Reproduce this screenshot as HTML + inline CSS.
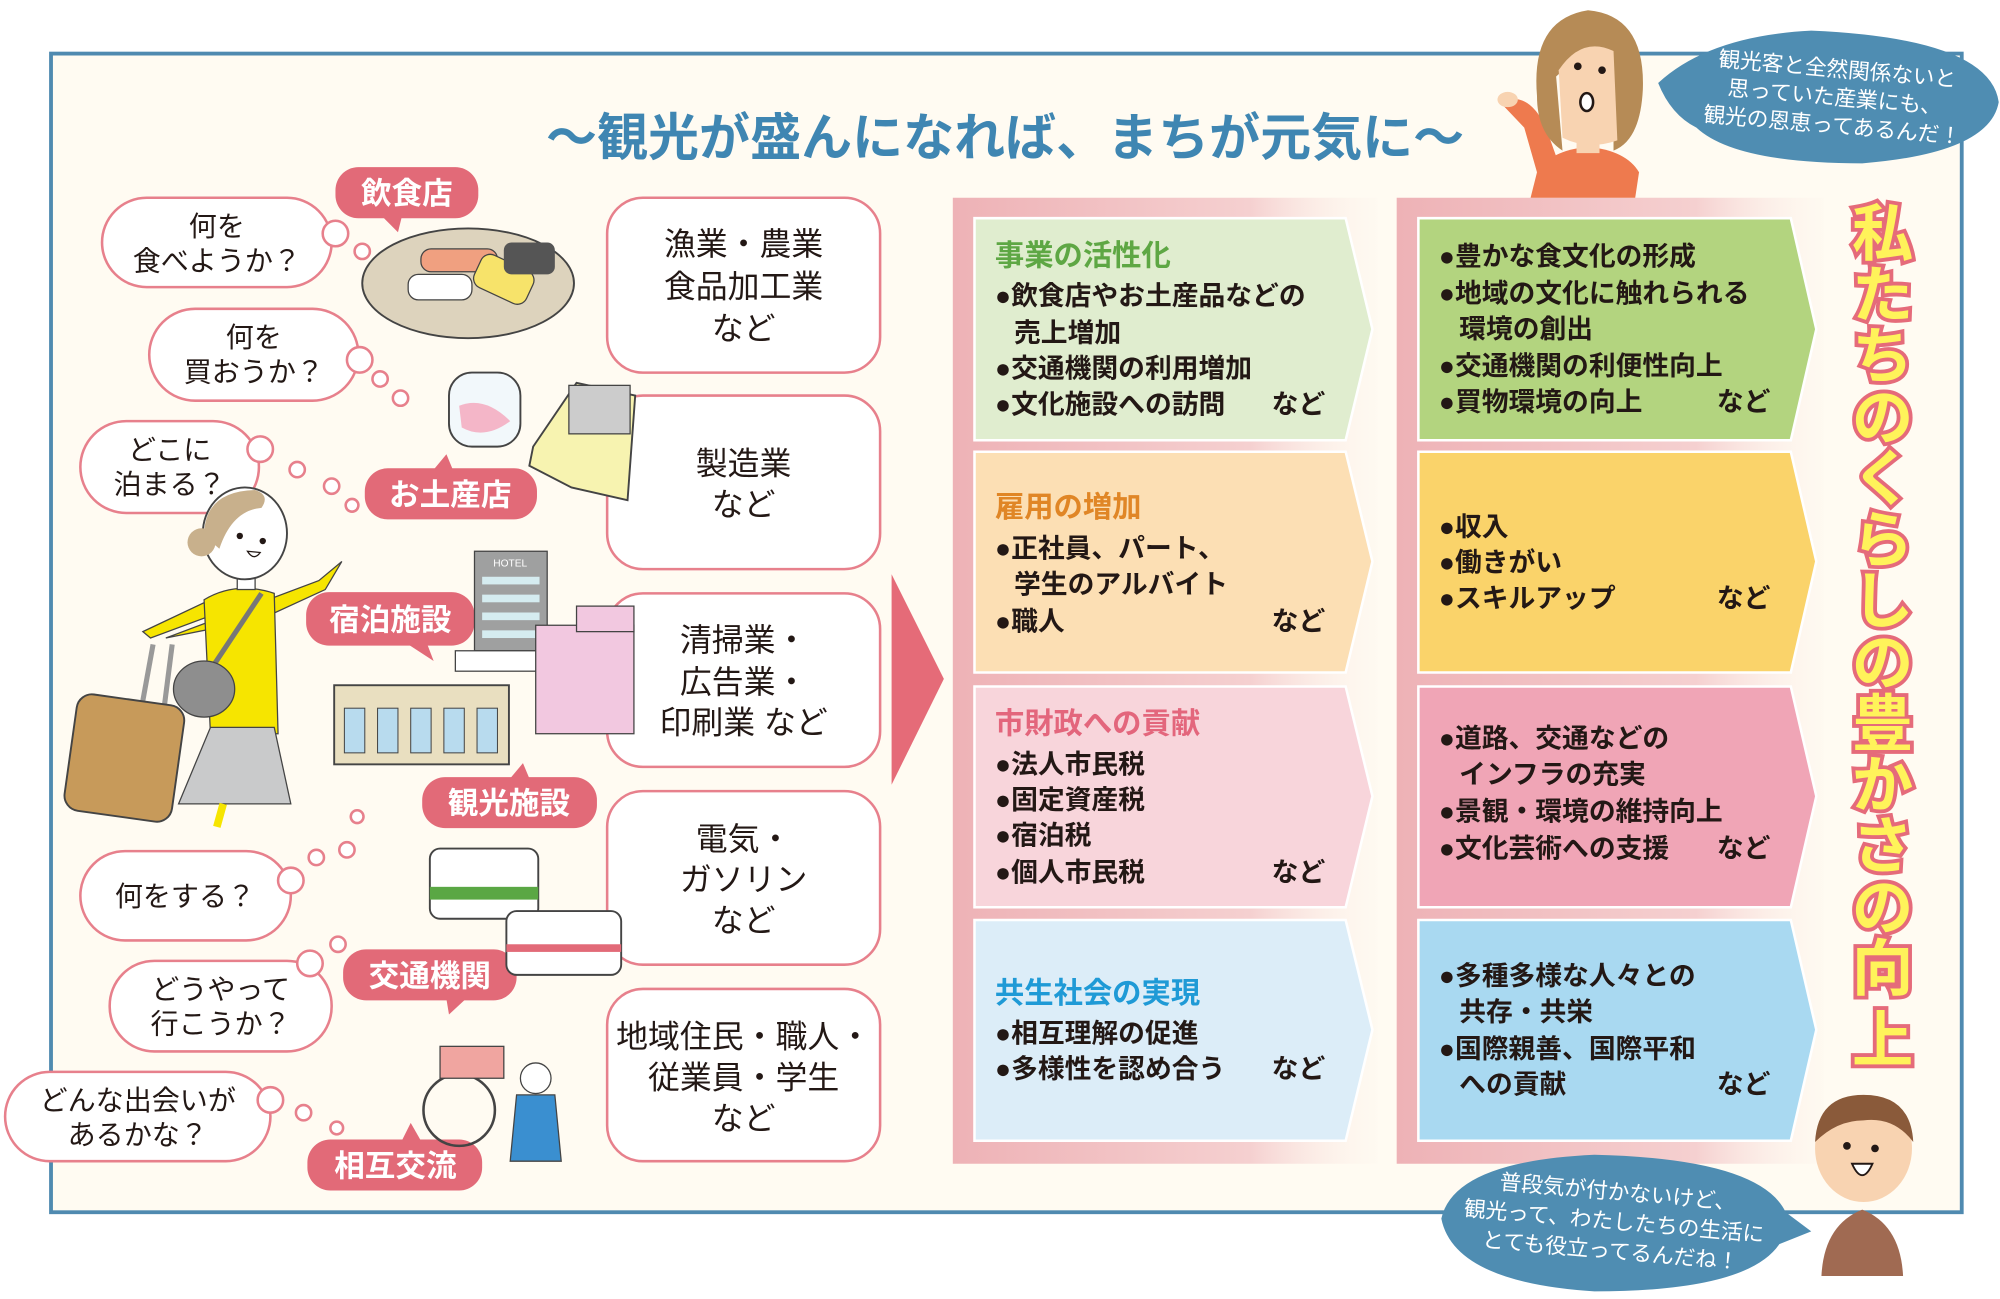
<!DOCTYPE html>
<html><head><meta charset="utf-8"><style>
html,body{margin:0;padding:0;background:#fff;}
svg{display:block;}
text{font-family:"Liberation Sans","Noto Sans CJK JP",sans-serif;}
</style></head><body>
<svg width="2000" height="1299" viewBox="0 0 1568 1018" preserveAspectRatio="none" xmlns="http://www.w3.org/2000/svg">
<defs>
<linearGradient id="pf" x1="0" x2="1" y1="0" y2="0">
<stop offset="0" stop-color="#eeb2b6"/><stop offset="0.7" stop-color="#f5d0d0"/><stop offset="1" stop-color="#fdf4ec" stop-opacity="0.2"/>
</linearGradient>
</defs>
<rect x="0" y="0" width="1568" height="1018" fill="#fff"/>
<rect x="40" y="42" width="1498" height="908" fill="#fffbf2" stroke="#4f8ab0" stroke-width="3"/>

<text x="788" y="122" text-anchor="middle" font-size="40" font-weight="bold" fill="#3f86b2">〜観光が盛んになれば、まちが元気に〜</text>

<g fill="#fff" stroke="#e7808c" stroke-width="2">
<rect x="476" y="155" width="214" height="137" rx="28"/>
<rect x="476" y="310" width="214" height="136" rx="28"/>
<rect x="476" y="465" width="214" height="136" rx="28"/>
<rect x="476" y="620" width="214" height="136" rx="28"/>
<rect x="476" y="775" width="214" height="135" rx="28"/>
</g>
<g font-size="25" fill="#231815" text-anchor="middle">
<text x="583" y="200">漁業・農業</text><text x="583" y="233">食品加工業</text><text x="583" y="266">など</text>
<text x="583" y="372">製造業</text><text x="583" y="404">など</text>
<text x="583" y="510">清掃業・</text><text x="583" y="543">広告業・</text><text x="583" y="575">印刷業 など</text>
<text x="583" y="666">電気・</text><text x="583" y="698">ガソリン</text><text x="583" y="730">など</text>
<text x="583" y="821">地域住民・職人・</text><text x="583" y="853">従業員・学生</text><text x="583" y="885">など</text>
</g>

<polygon points="699,450 740,532 699,615" fill="#e56b78"/>

<path d="M747,155 H1080 V912 H747 Z" fill="url(#pf)"/>
<path d="M764,171 H1055 L1076,258 L1055,345 H764 Z" fill="#e0edcf" stroke="#fff" stroke-width="2"/>
<path d="M764,354 H1055 L1076,440 L1055,527 H764 Z" fill="#fcdfb4" stroke="#fff" stroke-width="2"/>
<path d="M764,538 H1055 L1076,624 L1055,711 H764 Z" fill="#f8d5db" stroke="#fff" stroke-width="2"/>
<path d="M764,721 H1055 L1076,807 L1055,894 H764 Z" fill="#dcedf8" stroke="#fff" stroke-width="2"/>

<g font-size="21" fill="#231815" font-weight="600">
<text x="780" y="208" font-size="23" font-weight="bold" fill="#5ea744">事業の活性化</text>
<text x="780" y="239">●飲食店やお土産品などの</text>
<text x="795" y="268">売上増加</text>
<text x="780" y="296">●交通機関の利用増加</text>
<text x="780" y="324">●文化施設への訪問</text><text x="997" y="324">など</text>

<text x="780" y="405" font-size="23" font-weight="bold" fill="#e08626">雇用の増加</text>
<text x="780" y="437">●正社員、パート、</text>
<text x="795" y="465">学生のアルバイト</text>
<text x="780" y="494">●職人</text><text x="997" y="494">など</text>

<text x="780" y="575" font-size="23" font-weight="bold" fill="#e3667c">市財政への貢献</text>
<text x="780" y="606">●法人市民税</text>
<text x="780" y="634">●固定資産税</text>
<text x="780" y="662">●宿泊税</text>
<text x="780" y="691">●個人市民税</text><text x="997" y="691">など</text>

<text x="780" y="786" font-size="23" font-weight="bold" fill="#1f9ad6">共生社会の実現</text>
<text x="780" y="817">●相互理解の促進</text>
<text x="780" y="845">●多様性を認め合う</text><text x="997" y="845">など</text>
</g>

<path d="M1095,155 H1430 V912 H1095 Z" fill="url(#pf)"/>
<path d="M1112,171 H1404 L1424,258 L1404,345 H1112 Z" fill="#b3d47f" stroke="#fff" stroke-width="2"/>
<path d="M1112,354 H1404 L1424,440 L1404,527 H1112 Z" fill="#fad36a" stroke="#fff" stroke-width="2"/>
<path d="M1112,538 H1404 L1424,624 L1404,711 H1112 Z" fill="#f0a5b6" stroke="#fff" stroke-width="2"/>
<path d="M1112,721 H1404 L1424,807 L1404,894 H1112 Z" fill="#a9d9f1" stroke="#fff" stroke-width="2"/>
<g font-size="21" fill="#231815" font-weight="600">
<text x="1128" y="208">●豊かな食文化の形成</text>
<text x="1128" y="237">●地域の文化に触れられる</text>
<text x="1144" y="265">環境の創出</text>
<text x="1128" y="294">●交通機関の利便性向上</text>
<text x="1128" y="322">●買物環境の向上</text><text x="1346" y="322">など</text>

<text x="1128" y="420">●収入</text>
<text x="1128" y="448">●働きがい</text>
<text x="1128" y="476">●スキルアップ</text><text x="1346" y="476">など</text>

<text x="1128" y="586">●道路、交通などの</text>
<text x="1144" y="614">インフラの充実</text>
<text x="1128" y="643">●景観・環境の維持向上</text>
<text x="1128" y="672">●文化芸術への支援</text><text x="1346" y="672">など</text>

<text x="1128" y="772">●多種多様な人々との</text>
<text x="1144" y="800">共存・共栄</text>
<text x="1128" y="829">●国際親善、国際平和</text>
<text x="1144" y="857">への貢献</text><text x="1346" y="857">など</text>
</g>

<g font-size="48" font-weight="bold" fill="#fff35a" stroke="#e56b7a" stroke-width="6" paint-order="stroke" text-anchor="middle">
<text x="1476" y="200">私</text><text x="1476" y="248">た</text><text x="1476" y="296">ち</text><text x="1476" y="344">の</text>
<text x="1476" y="392">く</text><text x="1476" y="440">ら</text><text x="1476" y="488">し</text><text x="1476" y="536">の</text>
<text x="1476" y="584">豊</text><text x="1476" y="632">か</text><text x="1476" y="680">さ</text><text x="1476" y="728">の</text>
<text x="1476" y="776">向</text><text x="1476" y="832">上</text>
</g>

<!-- top right woman -->
<path d="M1200,155 L1205,135 Q1215,118 1245,115 Q1275,118 1285,135 L1282,155 Z" fill="#ee7a4e"/>
<path d="M1176,80 Q1198,70 1212,100 L1222,128 L1205,135 L1195,100 Z" fill="#ee7a4e"/>
<ellipse cx="1182" cy="78" rx="8" ry="6" fill="#f8d3b1"/>
<rect x="1236" y="100" width="18" height="20" fill="#f8d3b1"/>
<path d="M1205,75 Q1200,15 1245,8 Q1290,12 1288,70 Q1286,110 1265,118 L1265,70 Q1240,40 1220,60 L1225,118 Q1205,105 1205,75 Z" fill="#b68b56"/>
<path d="M1222,55 Q1240,28 1265,40 L1268,110 Q1245,118 1225,108 Z" fill="#f8d3b1"/>
<circle cx="1237" cy="52" r="3" fill="#231815"/><circle cx="1256" cy="55" r="3" fill="#231815"/>
<ellipse cx="1244" cy="80" rx="5" ry="7" fill="#fff" stroke="#231815" stroke-width="2"/>
<path d="M1300,65 Q1340,28 1420,24 Q1560,30 1567,80 Q1560,120 1460,128 Q1360,128 1330,100 Q1310,90 1300,65 Z" fill="#4f8db2"/>
<g font-size="17" fill="#fff" text-anchor="middle">
<text x="1440" y="60" transform="rotate(5 1440 60)">観光客と全然関係ないと</text>
<text x="1438" y="82" transform="rotate(5 1438 82)">思っていた産業にも、</text>
<text x="1436" y="104" transform="rotate(5 1436 104)">観光の恩恵ってあるんだ！</text>
</g>

<!-- bottom right boy -->
<path d="M1428,1000 Q1430,960 1460,948 Q1490,960 1492,1000 Z" fill="#a06a52"/>
<ellipse cx="1461" cy="900" rx="38" ry="42" fill="#f8d3b1"/>
<path d="M1423,895 Q1425,858 1461,858 Q1498,858 1500,895 Q1485,875 1461,878 Q1440,878 1423,895 Z" fill="#8a5a3a"/>
<circle cx="1448" cy="898" r="3" fill="#231815"/><circle cx="1470" cy="900" r="3" fill="#231815"/>
<path d="M1452,912 Q1460,930 1468,912 Z" fill="#fff" stroke="#231815" stroke-width="1.5"/>
<path d="M1130,955 Q1140,910 1250,905 Q1380,908 1400,950 L1420,965 L1395,975 Q1370,1012 1250,1012 Q1140,1005 1130,955 Z" fill="#4f8db2"/>
<g font-size="17" fill="#fff" text-anchor="middle">
<text x="1268" y="940" transform="rotate(5 1268 940)">普段気が付かないけど、</text>
<text x="1265" y="963" transform="rotate(5 1265 963)">観光って、わたしたちの生活に</text>
<text x="1262" y="986" transform="rotate(5 1262 986)">とても役立ってるんだね！</text>
</g>

<!-- left thought bubbles -->
<g fill="#fff" stroke="#e7808c" stroke-width="2">
<rect x="80" y="155" width="180" height="70" rx="35"/>
<rect x="117" y="242" width="164" height="72" rx="36"/>
<rect x="63" y="330" width="140" height="72" rx="36"/>
<rect x="63" y="667" width="165" height="70" rx="35"/>
<rect x="86" y="753" width="174" height="71" rx="35"/>
<rect x="4" y="840" width="208" height="70" rx="35"/>
<circle cx="263" cy="183" r="10"/><circle cx="284" cy="197" r="6"/>
<circle cx="282" cy="282" r="10"/><circle cx="298" cy="297" r="6"/><circle cx="314" cy="312" r="6"/>
<circle cx="204" cy="352" r="10"/><circle cx="233" cy="368" r="6"/><circle cx="260" cy="381" r="6"/><circle cx="276" cy="396" r="5"/>
<circle cx="228" cy="690" r="10"/><circle cx="248" cy="672" r="6"/><circle cx="272" cy="666" r="6"/><circle cx="280" cy="640" r="5"/>
<circle cx="243" cy="755" r="10"/><circle cx="265" cy="740" r="6"/>
<circle cx="212" cy="862" r="10"/><circle cx="238" cy="872" r="6"/><circle cx="264" cy="884" r="5"/>
</g>
<g font-size="22" fill="#231815" text-anchor="middle">
<text x="170" y="185">何を</text><text x="170" y="212">食べようか？</text>
<text x="199" y="272">何を</text><text x="199" y="299">買おうか？</text>
<text x="133" y="360">どこに</text><text x="133" y="387">泊まる？</text>
<text x="145" y="710">何をする？</text>
<text x="173" y="783">どうやって</text><text x="173" y="810">行こうか？</text>
<text x="108" y="870">どんな出会いが</text><text x="108" y="897">あるかな？</text>
</g>

<g fill="#e26a78">
<rect x="263" y="131" width="112" height="40" rx="18"/><polygon points="300,170 315,170 312,182"/>
<rect x="286" y="367" width="135" height="40" rx="18"/><polygon points="340,368 355,368 350,356"/>
<rect x="240" y="464" width="132" height="42" rx="18"/><polygon points="320,505 335,505 340,518"/>
<rect x="331" y="609" width="137" height="40" rx="18"/><polygon points="400,610 415,610 410,598"/>
<rect x="269" y="744" width="136" height="40" rx="18"/><polygon points="350,783 365,783 352,795"/>
<rect x="241" y="893" width="137" height="40" rx="18"/><polygon points="315,894 330,894 322,880"/>
</g>
<g font-size="24" font-weight="bold" fill="#fff" text-anchor="middle">
<text x="319" y="160">飲食店</text>
<text x="353" y="396">お土産店</text>
<text x="306" y="494">宿泊施設</text>
<text x="399" y="638">観光施設</text>
<text x="337" y="773">交通機関</text>
<text x="310" y="922">相互交流</text>
</g>

<!-- illustrations -->
<ellipse cx="367" cy="222" rx="83" ry="43" fill="#ddd3bd" stroke="#444" stroke-width="1.5"/>
<rect x="330" y="195" width="60" height="18" rx="8" fill="#f0a080" stroke="#444"/>
<rect x="372" y="205" width="45" height="28" rx="8" fill="#f7e36a" stroke="#444" transform="rotate(25 395 220)"/>
<rect x="395" y="190" width="40" height="25" rx="6" fill="#555"/>
<rect x="320" y="215" width="50" height="20" rx="8" fill="#fff" stroke="#444"/>
<rect x="352" y="292" width="56" height="58" rx="18" fill="#f2f8fb" stroke="#444" stroke-width="1.5"/>
<path d="M360,318 Q380,310 400,330 Q380,345 362,335 Z" fill="#f4b6c8"/>
<path d="M418,350 L452,300 L498,310 L492,392 L448,382 L415,365 Z" fill="#f7f3b0" stroke="#444" stroke-width="1.5"/>
<rect x="446" y="302" width="48" height="38" fill="#ccc" stroke="#444"/>
<!-- traveller -->
<path d="M130,500 L250,455 L268,440 L255,462 L205,485 Z" fill="#f6e500" stroke="#444" stroke-width="1"/>
<path d="M112,495 L165,470 L172,480 L118,500 Z" fill="#f6e500" stroke="#444" stroke-width="1"/>
<path d="M160,470 Q185,455 215,465 L218,575 L165,575 Z" fill="#f6e500" stroke="#444" stroke-width="1"/>
<path d="M165,570 L215,570 L228,630 L140,630 Z" fill="#c9cacb" stroke="#444" stroke-width="1"/>
<line x1="175" y1="630" x2="170" y2="648" stroke="#f6e500" stroke-width="6"/>
<rect x="186" y="440" width="14" height="22" fill="#fff" stroke="#444"/>
<ellipse cx="192" cy="418" rx="33" ry="36" fill="#fff" stroke="#444" stroke-width="1.5"/>
<path d="M160,420 Q160,385 200,384 Q212,388 205,398 Q182,400 172,430 Z" fill="#c8b08c"/>
<circle cx="158" cy="425" r="11" fill="#c8b08c"/>
<circle cx="188" cy="420" r="2.5" fill="#231815"/><circle cx="206" cy="424" r="2.5" fill="#231815"/>
<path d="M194,432 Q199,440 204,433 Z" fill="#fff" stroke="#231815"/>
<line x1="205" y1="465" x2="155" y2="540" stroke="#777" stroke-width="4"/>
<ellipse cx="160" cy="540" rx="24" ry="22" fill="#8e8e8e" stroke="#444"/>
<line x1="120" y1="505" x2="110" y2="560" stroke="#999" stroke-width="4"/>
<line x1="135" y1="505" x2="128" y2="560" stroke="#999" stroke-width="4"/>
<rect x="55" y="548" width="85" height="92" rx="12" fill="#c79a5a" stroke="#444" stroke-width="1.5" transform="rotate(8 97 594)"/>
<!-- hotels -->
<rect x="372" y="432" width="57" height="78" fill="#9fa0a0" stroke="#444"/>
<text x="400" y="444" font-size="8" fill="#fff" text-anchor="middle">HOTEL</text>
<g fill="#d5ecf0"><rect x="378" y="452" width="45" height="6"/><rect x="378" y="466" width="45" height="6"/><rect x="378" y="480" width="45" height="6"/><rect x="378" y="494" width="45" height="6"/></g>
<rect x="357" y="510" width="86" height="16" fill="#fff" stroke="#444"/>
<rect x="420" y="490" width="77" height="85" fill="#f2c8e0" stroke="#444"/>
<rect x="452" y="475" width="45" height="20" fill="#f2c8e0" stroke="#444"/>
<rect x="262" y="537" width="137" height="62" fill="#e9dfc0" stroke="#444" stroke-width="1.5"/>
<g fill="#b8dbee" stroke="#444" stroke-width="0.8">
<rect x="270" y="555" width="16" height="35"/><rect x="296" y="555" width="16" height="35"/><rect x="322" y="555" width="16" height="35"/><rect x="348" y="555" width="16" height="35"/><rect x="374" y="555" width="16" height="35"/>
</g>
<!-- train & bus -->
<rect x="337" y="665" width="85" height="55" rx="8" fill="#fff" stroke="#444" stroke-width="1.5"/>
<rect x="337" y="695" width="85" height="10" fill="#5aa744"/>
<rect x="397" y="714" width="90" height="50" rx="8" fill="#fff" stroke="#444" stroke-width="1.5"/>
<rect x="397" y="740" width="90" height="6" fill="#e26a78"/>
<!-- rickshaw -->
<circle cx="360" cy="870" r="28" fill="none" stroke="#444" stroke-width="2"/>
<rect x="345" y="820" width="50" height="25" fill="#f0a5a0" stroke="#444"/>
<circle cx="420" cy="845" r="12" fill="#fff" stroke="#444"/>
<path d="M405,858 L435,858 L440,910 L400,910 Z" fill="#3a8fd0" stroke="#444"/>
</svg>
</body></html>
